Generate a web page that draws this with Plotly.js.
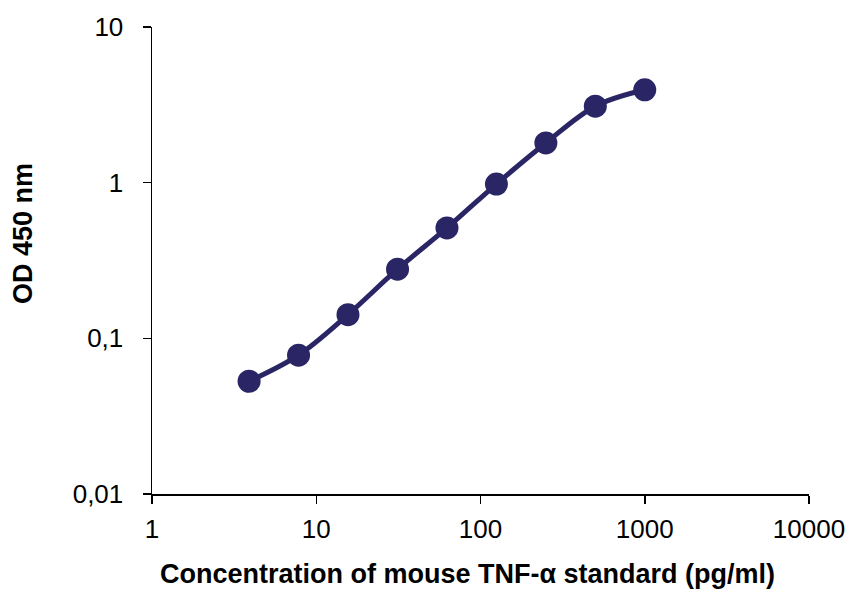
<!DOCTYPE html>
<html><head><meta charset="utf-8">
<script src="https://cdn.plot.ly/plotly-3.0.1.min.js"></script>
<style>html,body{margin:0;padding:0;background:#fff}</style>
</head><body><div id="chart" style="width:851px;height:592px"></div>
<script>
const concentration = [3.9, 7.8, 15.6, 31.25, 62.5, 125, 250, 500, 1000];
const od450 = [0.053, 0.078, 0.142, 0.278, 0.512, 0.98, 1.8, 3.1, 3.95];
const xTickVals = [1, 10, 100, 1000, 10000];
const xTickText = ['1', '10', '100', '1000', '10000'];
const yTickVals = [0.01, 0.1, 1, 10];
const yTickText = ['0,01', '0,1', '1', '10'];
const xTitle = 'Concentration of mouse TNF-α standard (pg/ml)';
const yTitle = 'OD 450 nm';

const trace = {
  x: concentration, y: od450, type: 'scatter', mode: 'lines+markers',
  line: {color: '#2a2665', width: 5, shape: 'spline', smoothing: 1},
  marker: {color: '#2a2665', size: 23},
  cliponaxis: false, hoverinfo: 'none'
};
const fam = 'Liberation Sans, Arial, sans-serif';
const layout = {
  width: 851, height: 592,
  margin: {l: 152, r: 42, t: 27, b: 98},
  paper_bgcolor: '#fff', plot_bgcolor: '#fff',
  showlegend: false,
  font: {family: fam, color: '#000'},
  xaxis: {
    type: 'log', range: [0, 4], tickmode: 'array', tickvals: xTickVals, ticktext: xTickText,
    showline: true, linecolor: '#000', linewidth: 1.5, ticks: 'outside', ticklen: 8, tickwidth: 1.5, tickcolor: '#000',
    ticklabelstandoff: 3,
    showgrid: false, zeroline: false, tickfont: {size: 26, family: fam, color: '#000'}
  },
  yaxis: {
    type: 'log', range: [-2, 1], tickmode: 'array', tickvals: yTickVals, ticktext: yTickText,
    showline: true, linecolor: '#000', linewidth: 1.5, ticks: 'outside', ticklen: 8, tickwidth: 1.5, tickcolor: '#000',
    ticklabelstandoff: 14,
    showgrid: false, zeroline: false, tickfont: {size: 26, family: fam, color: '#000'}
  },
  annotations: [
    {text: '<b>' + xTitle + '</b>', xref: 'paper', yref: 'paper', x: 0.480, y: -0.172,
     xanchor: 'center', yanchor: 'middle', showarrow: false, font: {size: 27, family: fam, color: '#000'}},
    {text: '<b>' + yTitle + '</b>', xref: 'paper', yref: 'paper', x: -0.196, y: 0.557, textangle: -90,
     xanchor: 'center', yanchor: 'middle', showarrow: false, font: {size: 27, family: fam, color: '#000'}}
  ]
};
Plotly.newPlot('chart', [trace], layout, {displayModeBar: false, staticPlot: true});
</script></body></html>
